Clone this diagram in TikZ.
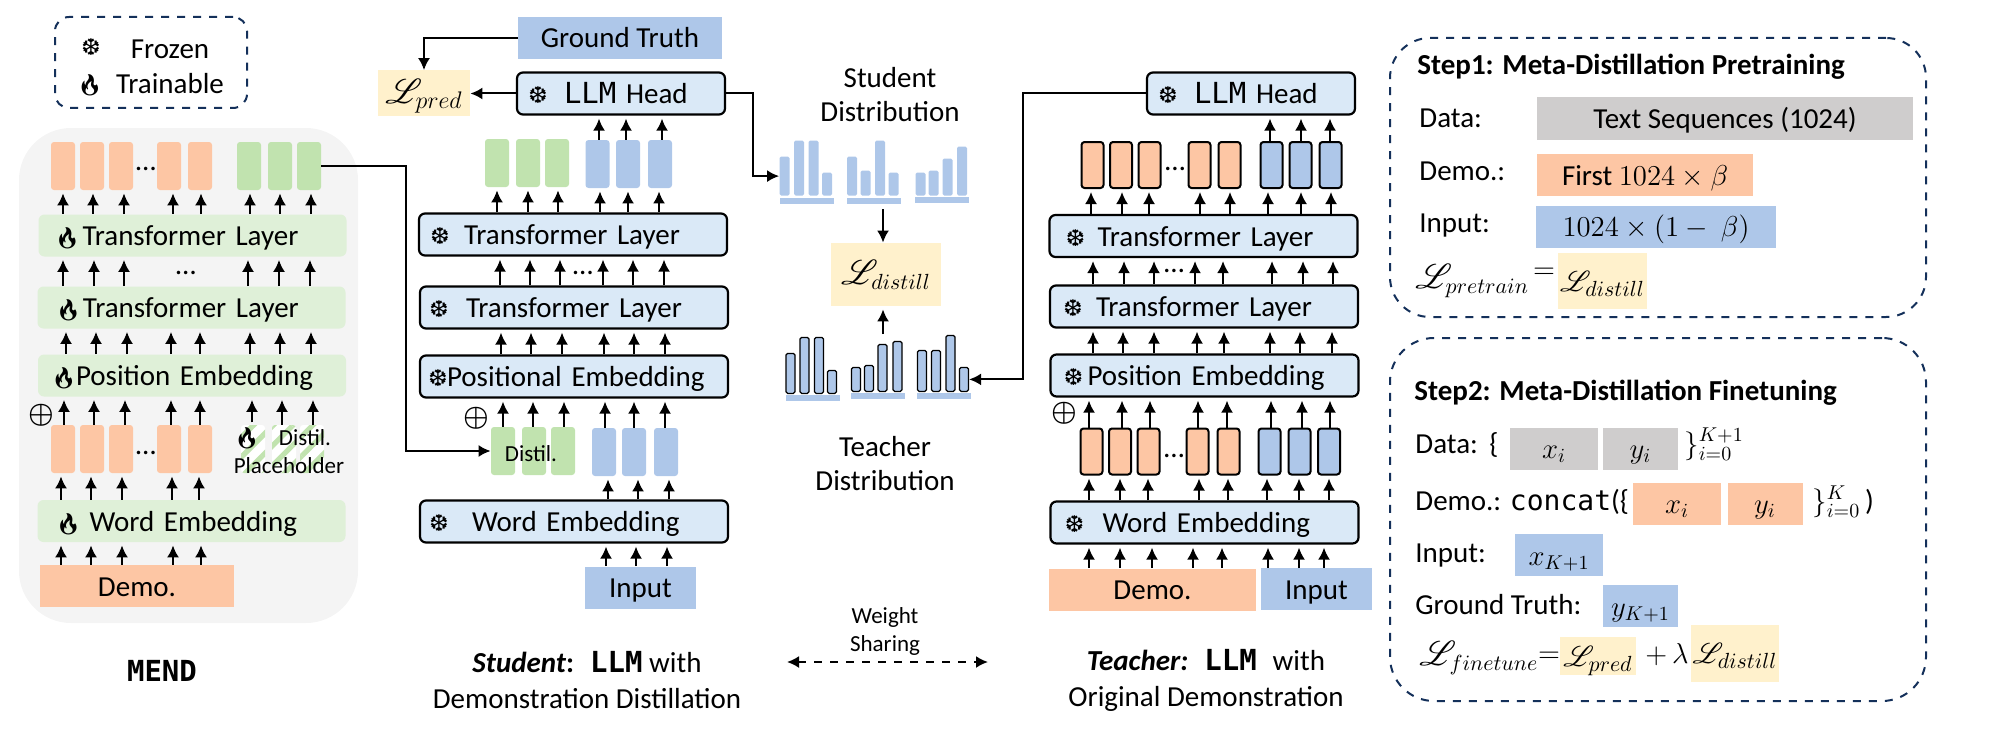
\documentclass[tikz,border=0pt]{standalone}
\usepackage{amsmath}
\usepackage{mathrsfs}
\usepackage{fontspec}
\setmainfont{Carlito}
\newfontfamily\dejavu{DejaVu Sans}
\newfontfamily\emojifont{Noto Emoji}
\newfontfamily\monolm{DejaVu Sans Mono}
\usetikzlibrary{arrows.meta,patterns.meta}
\definecolor{demoorange}{HTML}{FDC6A4}
\definecolor{distilgreen}{HTML}{C1E3AF}
\definecolor{inputblue}{HTML}{AEC7E9}
\definecolor{frozenblue}{HTML}{DAE9F7}
\definecolor{trainablegreen}{HTML}{DFF0D8}
\definecolor{lossyellow}{HTML}{FFF1CC}
\definecolor{datagray}{HTML}{CFCDCD}
\definecolor{panelgray}{HTML}{F4F4F4}
\definecolor{stepnavy}{HTML}{14305A}
\newcommand{\frost}{\makebox[8pt][c]{\fontsize{11.5}{11}\dejavu ❆}}
\newcommand{\flame}{\makebox[8pt][c]{\fontsize{10.5}{11}\emojifont 🔥}}
\newcommand{\Loss}[1]{\mathscr{L}_{#1}}
\newcommand{\lmm}{{\monolm LLM}}
\tikzset{
  every node/.style={inner sep=0pt,font=\fontsize{14.5}{17}\selectfont},
  upflow/.style={-{Latex[length=6pt,width=6pt]},line width=1pt,shorten >=1.5pt},
  wire/.style={-{Latex[length=6pt,width=6pt]},line width=1pt},
  tok/.style={minimum width=12pt,minimum height=24pt,rounded corners=1.5pt},
  edgetok/.style={tok,minimum width=11pt,minimum height=23pt,draw=black,line width=1pt},
  layer/.style={minimum height=21pt,text width=154pt,align=left,text height=10pt,text depth=0pt,rounded corners=3pt},
  frozenlayer/.style={layer,fill=frozenblue,draw=black,line width=1.1pt},
  trainlayer/.style={layer,fill=trainablegreen},
  plainbox/.style={minimum height=21pt,text height=10pt,text depth=0pt},
  lossbox/.style={fill=lossyellow,text height=10pt,text depth=0pt,font=\fontsize{16}{16}\selectfont},
  dashbox/.style={draw=stepnavy,line width=1pt,dash pattern=on 4pt off 4pt},
  sdbar/.style={fill=inputblue,minimum width=5pt,anchor=south,rounded corners=0.8pt},
  tdbar/.style={fill=inputblue,draw=black,line width=0.6pt,minimum width=4.5pt,anchor=south,rounded corners=0.8pt},
  sbase/.style={fill=inputblue,minimum width=27pt,minimum height=3pt},
  steptext/.style={anchor=base west},
  plustext/.style={font=\fontsize{14}{14}\selectfont},
  hatchtok/.style={tok,preaction={fill=white},pattern={Lines[angle=45,distance=7pt,line width=2.6pt]},pattern color=distilgreen},
}
\begin{document}
\begin{tikzpicture}[x=0.5pt,y=-0.5pt]
\useasboundingbox (0,0) rectangle (2000,738);

% legend
\node[dashbox,rounded corners=7pt,minimum width=96pt,minimum height=45.5pt] (legend) at (151,62.5) {};
\node (legfrozen) at (91,47) {\frost};
\node (legflame) at (90,85) {\flame};
\node (legfrozentxt) at (170,49) {Frozen};
\node (legtraintxt) at (170,84) {Trainable};

% MEND
\node[fill=panelgray,rounded corners=26pt,minimum width=169.5pt,minimum height=247.5pt] (panel) at (188.5,375.5) {};
\foreach \xx [count=\i] in {63,92,121,169,200} {
  \node[tok,fill=demoorange] (mo\i) at (\xx,166) {};
  \node[tok,fill=demoorange] (lo\i) at (\xx,449) {};
}
\foreach \xx [count=\i] in {249,280,309} \node[tok,fill=distilgreen] (mg\i) at (\xx,166) {};
\foreach \xx [count=\i] in {253,284,312} \node[hatchtok] (ph\i) at (\xx,449) {};
\node[anchor=base] (modots) at (146,170) {…};
\node[anchor=base] (midots) at (186,274) {…};
\node[anchor=base] (lodots) at (146,454) {…};
\node[trainlayer] (mt1) at (192.5,235.5) {\hspace*{10.5pt}\flame\hspace{3.5pt}Transformer Layer};
\node[trainlayer] (mt2) at (191.5,307.5) {\hspace*{11.5pt}\flame\hspace{3.2pt}Transformer Layer};
\node[trainlayer] (mpe) at (192,375.5) {\hspace*{9pt}\flame\hspace{2pt}Position Embedding};
\node[trainlayer] (mwe) at (191.5,521) {\hspace*{11.5pt}\flame\hspace{6.5pt}Word Embedding};
\node[plainbox,fill=demoorange,minimum width=97pt] (mdemo) at (137,586) {Demo.};
\node[plustext] (mplus) at (41,415) {{\boldmath$\oplus$}};
\node[font=\fontsize{11.5}{14}\selectfont] (mph1) at (247,438) {\flame};
\node[font=\fontsize{11.5}{14}\selectfont,align=center] (mph) at (289,452) {\hspace{16pt}Distil.\\Placeholder};
\foreach \xx/\nn in {63/mo1,93/mo2,124/mo3,173/mo4,201/mo5,250/mg1,280/mg2,311/mg3}
  \draw[upflow] (\xx,0 |- mt1.north) -- (\xx,0 |- \nn.south);
\foreach \xx in {63,94,124,248,279,310} \draw[upflow] (\xx,0 |- mt2.north) -- (\xx,0 |- mt1.south);
\foreach \xx in {66,96,127,171,200,250,280,311} \draw[upflow] (\xx,0 |- mpe.north) -- (\xx,0 |- mt2.south);
\foreach \xx/\nn in {64/lo1,94/lo2,125/lo3,171/lo4,200/lo5,252/ph1,282/ph2,313/ph3}
  \draw[upflow] (\xx,0 |- \nn.north) -- (\xx,0 |- mpe.south);
\foreach \xx/\nn in {61/lo1,91/lo2,122/lo3,172/lo4,199/lo5}
  \draw[upflow] (\xx,0 |- mwe.north) -- (\xx,0 |- \nn.south);
\foreach \xx in {61,91,122,173,201} \draw[upflow] (\xx,0 |- mdemo.north) -- (\xx,0 |- mwe.south);
\node[font=\fontsize{14.5}{17}\bfseries\monolm] (mendname) at (162,671) {MEND};

% student
\node[plainbox,fill=inputblue,minimum width=102pt] (gtruth) at (620,38) {Ground Truth};
\node[lossbox,minimum width=46pt,minimum height=23pt,font=\fontsize{17}{17}\selectfont] (lpred) at (424,93.5) {$\Loss{pred}$};
\node[frozenlayer,text width=104pt] (shead) at (621,93.5) {\hspace*{6.5pt}\frost\hspace{9pt}\lmm{} Head};
\foreach \xx [count=\i] in {497,528,557} \node[tok,fill=distilgreen] (sg\i) at (\xx,163) {};
\foreach \xx [count=\i] in {597.5,628,660} \node[tok,fill=inputblue] (sb\i) at (\xx,164) {};
\node[frozenlayer] (st1) at (573,234.5) {\hspace*{6.5pt}\frost\hspace{8pt}Transformer Layer};
\node[frozenlayer] (st2) at (574,307.5) {\hspace*{5.5pt}\frost\hspace{9.5pt}Transformer Layer};
\node[frozenlayer] (spe) at (574,376.5) {\hspace*{5pt}\frost\hspace{0.5pt}Positional Embedding};
\foreach \xx [count=\i] in {503,534,563} \node[tok,fill=distilgreen] (dg\i) at (\xx,451) {};
\foreach \xx [count=\i] in {604,634,666} \node[tok,fill=inputblue] (db\i) at (\xx,452) {};
\node[font=\fontsize{11.5}{14}\selectfont] (sdistil) at (531,454) {Distil.};
\node[frozenlayer] (swe) at (574,521.5) {\hspace*{5.5pt}\frost\hspace{12.5pt}Word Embedding};
\node[plainbox,fill=inputblue,minimum width=55.5pt] (sinput) at (640.5,587.5) {Input};
\node[plustext] (splus) at (476,418) {{\boldmath$\oplus$}};
\node[anchor=base] (sdots) at (583,274) {…};
\draw[wire] (gtruth.west) -| (lpred.north);
\draw[wire] (shead.west) -- (lpred.east);
\foreach \xx/\nn in {599/sb1,626/sb2,662/sb3} \draw[upflow] (\xx,0 |- \nn.north) -- (\xx,0 |- shead.south);
\foreach \xx/\nn in {497/sg1,528/sg2,558/sg3,600/sb1,628/sb2,659/sb3}
  \draw[upflow] (\xx,0 |- st1.north) -- (\xx,0 |- \nn.south);
\foreach \xx in {500,530,560,603,633,664} \draw[upflow] (\xx,0 |- st2.north) -- (\xx,0 |- st1.south);
\foreach \xx in {501,531,562,604,634,665} \draw[upflow] (\xx,0 |- spe.north) -- (\xx,0 |- st2.south);
\foreach \xx/\nn in {503/dg1,533/dg2,564/dg3,605/db1,634/db2,665/db3}
  \draw[upflow] (\xx,0 |- \nn.north) -- (\xx,0 |- spe.south);
\foreach \xx/\nn in {608/db1,638/db2,669/db3} \draw[upflow] (\xx,0 |- swe.north) -- (\xx,0 |- \nn.south);
\foreach \xx in {606,636,667} \draw[upflow] (\xx,0 |- sinput.north) -- (\xx,0 |- swe.south);
\draw[wire] (mg3.east) -- ++(85,0) |- (dg1.west);
\node[align=center,font=\fontsize{14.5}{18}\selectfont] (scap) at (587,680) {\textbf{\textit{Student}:}\hspace{8pt}{\bfseries\lmm} with\\Demonstration Distillation};

% distributions
\node[align=center] (sdname) at (890,95) {Student\\Distribution};
\foreach \xx/\hh [count=\i] in {784.5/39,799/55,813.5/55,827/23,852/39,865.5/25,880/55,893.5/23,920.5/23,933.5/25,947.5/37,962/49}
  \node[sdbar,minimum height=\hh*0.5pt] (sd\i) at (\xx,196) {};
\node[sbase] (sdb1) at (807,201) {};
\node[sbase] (sdb2) at (874,201) {};
\node[sbase] (sdb3) at (942,200) {};
\node[lossbox,minimum width=55pt,minimum height=31.5pt] (ldistill) at (886,274.5) {$\Loss{distill}$};
\foreach \xx/\hh/\yy [count=\i] in {790.5/40/394,804.5/56/394,819/56/394,832/23/394,856/24/392,869/26/392,882.5/47/392,897.5/50/392,922/41/392,936/41/392,950.5/56/392,964/24/392}
  \node[tdbar,minimum height=\hh*0.5pt] (td\i) at (\xx,\yy) {};
\node[sbase] (tdb1) at (813,398) {};
\node[sbase] (tdb2) at (878,396) {};
\node[sbase] (tdb3) at (944,396) {};
\coordinate (tdtop) at (883,334);
\draw[wire,shorten <=2.5pt] (883,0 |- sdb2.south) -- (883,0 |- ldistill.north);
\draw[upflow] (tdtop) -- (883,0 |- ldistill.south);
\draw[wire] (shead.east) -- ++(27,0) |- (sd1.west);
\node[align=center] (tdname) at (885,464) {Teacher\\Distribution};
\node[align=center,font=\fontsize{11.5}{14}\selectfont] (wsname) at (885,631) {Weight\\Sharing};
\coordinate (wsleft) at (787,662);
\coordinate (wsright) at (988,662);
\draw[{Latex[length=6pt,width=6pt]}-{Latex[length=6pt,width=6pt]},line width=1pt,dash pattern=on 4pt off 4pt] (wsleft) -- (wsright);

% teacher
\node[frozenlayer,text width=104pt] (thead) at (1251,93.5) {\hspace*{6.5pt}\frost\hspace{9pt}\lmm{} Head};
\foreach \xx [count=\i] in {1092.5,1121,1149.5,1199.5,1229.5} \node[edgetok,fill=demoorange] (to\i) at (\xx,165) {};
\foreach \xx [count=\i] in {1271.5,1300.5,1330.5} \node[edgetok,fill=inputblue] (tb\i) at (\xx,165) {};
\node[frozenlayer] (tt1) at (1203.5,236) {\hspace*{9pt}\frost\hspace{7pt}Transformer Layer};
\node[frozenlayer] (tt2) at (1204,306.5) {\hspace*{7.5pt}\frost\hspace{7.5pt}Transformer Layer};
\node[frozenlayer] (tpe) at (1204.5,375.5) {\hspace*{7.5pt}\frost\hspace{3pt}Position Embedding};
\foreach \xx [count=\i] in {1091.5,1120,1148.5,1197.5,1228.5} \node[edgetok,fill=demoorange] (tlo\i) at (\xx,451.5) {};
\foreach \xx [count=\i] in {1269.5,1299.5,1329} \node[edgetok,fill=inputblue] (tli\i) at (\xx,451.5) {};
\node[frozenlayer] (twe) at (1204.5,522.5) {\hspace*{8pt}\frost\hspace{10pt}Word Embedding};
\node[plainbox,fill=demoorange,minimum width=103.5pt] (tdemo) at (1152.5,589.5) {Demo.};
\node[plainbox,fill=inputblue,minimum width=55.5pt] (tinput) at (1316.5,589) {Input};
\node[plustext] (tplus) at (1064,413) {{\boldmath$\oplus$}};
\node[anchor=base] (tdots1) at (1175,170) {…};
\node[anchor=base] (tdots2) at (1174,272) {…};
\node[anchor=base] (tdots3) at (1174,457) {…};
\foreach \xx/\nn in {1270/tb1,1301/tb2,1330/tb3} \draw[upflow] (\xx,0 |- \nn.north) -- (\xx,0 |- thead.south);
\foreach \xx/\nn in {1091/to1,1122/to2,1149/to3,1200/to4,1230/to5,1268/tb1,1301/tb2,1331/tb3}
  \draw[upflow] (\xx,0 |- tt1.north) -- (\xx,0 |- \nn.south);
\foreach \xx in {1093,1124,1154,1195,1223,1272,1303,1333} \draw[upflow] (\xx,0 |- tt2.north) -- (\xx,0 |- tt1.south);
\foreach \xx in {1093,1123,1154,1197,1224,1270,1300,1332} \draw[upflow] (\xx,0 |- tpe.north) -- (\xx,0 |- tt2.south);
\foreach \xx/\nn in {1089/tlo1,1122/tlo2,1150/tlo3,1198/tlo4,1227/tlo5,1271/tli1,1302/tli2,1330/tli3}
  \draw[upflow] (\xx,0 |- \nn.north) -- (\xx,0 |- tpe.south);
\foreach \xx/\nn in {1089/tlo1,1120/tlo2,1148/tlo3,1199/tlo4,1228/tlo5,1267/tli1,1299/tli2,1329/tli3}
  \draw[upflow] (\xx,0 |- twe.north) -- (\xx,0 |- \nn.south);
\foreach \xx in {1089,1120,1152,1193,1222} \draw[upflow] (\xx,0 |- tdemo.north) -- (\xx,0 |- twe.south);
\foreach \xx in {1268,1299,1324} \draw[upflow] (\xx,0 |- tinput.north) -- (\xx,0 |- twe.south);
\draw[wire] (thead.west) -- ++(-123,0) |- (td12.east);
\node[align=center,font=\fontsize{14.5}{18}\selectfont] (tcap) at (1206,680) {\textbf{\textit{Teacher:}}\hspace{8pt}{\bfseries\lmm}\hspace{8pt}with\\Original Demonstration};

% step 1
\node[dashbox,rounded corners=20pt,minimum width=268pt,minimum height=139.5pt] (stepone) at (1658,177.5) {};
\node[steptext,font=\fontsize{14.5}{17}\bfseries] (s1title) at (1417,75) {Step1: Meta-Distillation Pretraining};
\node[steptext] (s1data) at (1419,127) {Data:};
\node[steptext] (s1demo) at (1419,180) {Demo.:};
\node[steptext] (s1input) at (1419,232) {Input:};
\node[plainbox,fill=datagray,minimum width=188pt] (s1seq) at (1725,118.5) {Text Sequences (1024)};
\node[plainbox,fill=demoorange,minimum width=108pt] (s1first) at (1645,175) {First $1024\times\beta$};
\node[plainbox,fill=inputblue,minimum width=120pt] (s1rest) at (1656,226.5) {$1024\times(1-\ \beta)$};
\node[steptext,font=\fontsize{16}{16}\selectfont] (s1loss) at (1415,288) {$\Loss{pretrain}$};
\node (s1eq) at (1544,273) {$=$};
\node[lossbox,minimum width=44.5pt,minimum height=28pt,font=\fontsize{15.5}{16}\selectfont] (s1dist) at (1602.5,281) {$\Loss{distill}$};

% step 2
\node[dashbox,rounded corners=22pt,minimum width=268pt,minimum height=181.5pt] (steptwo) at (1658,519.5) {};
\node[steptext,font=\fontsize{14.5}{17}\bfseries] (s2title) at (1414,400) {Step2: Meta-Distillation Finetuning};
\node[steptext] (s2data) at (1415,453) {Data:};
\node[steptext] (s2open) at (1489,453) {\{};
\node[plainbox,fill=datagray,minimum width=44pt] (s2dx) at (1554,448.5) {$x_i$};
\node[plainbox,fill=datagray,minimum width=37.5pt] (s2dy) at (1640.5,448.5) {$y_i$};
\node[steptext] (s2dclose) at (1684,453) {$\}_{i=0}^{K+1}$};
\node[steptext] (s2demo) at (1415,510) {Demo.: {\fontsize{14}{14}\monolm concat}(\{};
\node[plainbox,fill=demoorange,minimum width=44pt] (s2ox) at (1677,503.5) {$x_i$};
\node[plainbox,fill=demoorange,minimum width=37.5pt] (s2oy) at (1765,503.5) {$y_i$};
\node[steptext] (s2oclose) at (1812,510) {$\}_{i=0}^{K}$\,)};
\node[steptext] (s2input) at (1415,562) {Input:};
\node[plainbox,fill=inputblue,minimum width=44pt] (s2ix) at (1559,555) {$x_{K+1}$};
\node[steptext] (s2gt) at (1415,614) {Ground Truth:};
\node[plainbox,fill=inputblue,minimum width=37.5pt] (s2iy) at (1640.5,606) {$y_{K+1}$};
\node[steptext,font=\fontsize{16}{16}\selectfont] (s2loss) at (1419,665) {$\Loss{finetune}$};
\node (s2eq) at (1549,657) {$=$};
\node[lossbox,minimum width=38pt,minimum height=19pt,font=\fontsize{15.5}{16}\selectfont] (s2lp) at (1598,656) {$\Loss{pred}$};
\node[steptext] (s2plus) at (1645,663) {$+\,\lambda$};
\node[lossbox,minimum width=44pt,minimum height=28.5pt,font=\fontsize{15.5}{16}\selectfont] (s2ld) at (1735,653.5) {$\Loss{distill}$};
\end{tikzpicture}
\end{document}
